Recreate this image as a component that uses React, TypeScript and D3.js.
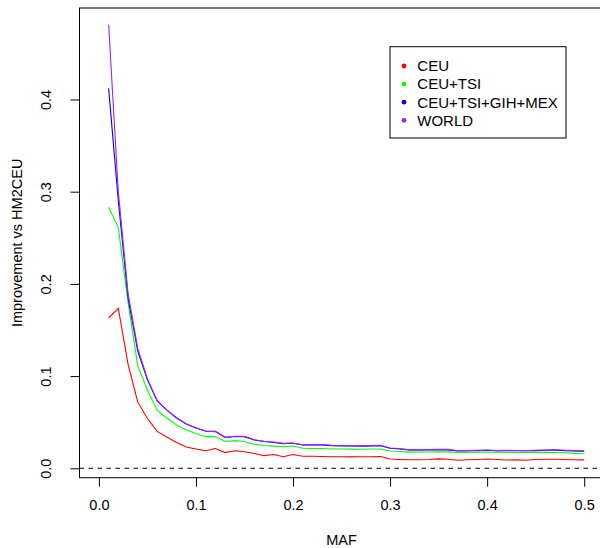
import React, { useRef, useEffect } from 'react';
import * as d3 from 'd3';

const maf = [
  0.01, 0.02, 0.03, 0.04, 0.05, 0.06, 0.07, 0.08, 0.09, 0.10,
  0.11, 0.12, 0.13, 0.14, 0.15, 0.16, 0.17, 0.18, 0.19, 0.20,
  0.21, 0.22, 0.23, 0.24, 0.25, 0.26, 0.27, 0.28, 0.29, 0.30,
  0.31, 0.32, 0.33, 0.34, 0.35, 0.36, 0.37, 0.38, 0.39, 0.40,
  0.41, 0.42, 0.43, 0.44, 0.45, 0.46, 0.47, 0.48, 0.49, 0.50,
];

const ceu = [
  0.163, 0.1735, 0.113, 0.072, 0.054, 0.040, 0.034, 0.028, 0.023, 0.021,
  0.019, 0.0215, 0.017, 0.019, 0.018, 0.016, 0.0137, 0.015, 0.0126, 0.015,
  0.013, 0.013, 0.0128, 0.0125, 0.0125, 0.0124, 0.0126, 0.0125, 0.0127, 0.010,
  0.0095, 0.0092, 0.0093, 0.0096, 0.0102, 0.0098, 0.0088, 0.0092, 0.0096, 0.0101,
  0.0096, 0.009, 0.0091, 0.0087, 0.0095, 0.0098, 0.0098, 0.0096, 0.0092, 0.0091,
];

const ceuTsi = [
  0.283, 0.261, 0.18, 0.111, 0.085, 0.063, 0.0546, 0.047, 0.0415, 0.0377,
  0.0343, 0.0345, 0.029, 0.030, 0.029, 0.026, 0.0247, 0.024, 0.0234, 0.0242,
  0.0218, 0.0215, 0.0214, 0.021, 0.021, 0.0208, 0.0207, 0.021, 0.021, 0.0188,
  0.0182, 0.0175, 0.0176, 0.0177, 0.018, 0.0178, 0.0172, 0.0172, 0.0174, 0.0176,
  0.0174, 0.0172, 0.0172, 0.0171, 0.0173, 0.0173, 0.0172, 0.0168, 0.0162, 0.0157,
];

const ceuTsiGihMex = [
  0.412, 0.29, 0.185, 0.127, 0.096, 0.073, 0.063, 0.0545, 0.048, 0.0437,
  0.0405, 0.040, 0.0336, 0.0345, 0.0343, 0.0307, 0.029, 0.028, 0.0268, 0.0272,
  0.0253, 0.0255, 0.0254, 0.0244, 0.0243, 0.0242, 0.024, 0.0243, 0.0244, 0.0217,
  0.021, 0.0198, 0.0198, 0.0199, 0.020, 0.020, 0.0188, 0.019, 0.0192, 0.0195,
  0.019, 0.0192, 0.0191, 0.019, 0.0192, 0.0195, 0.0197, 0.0192, 0.0188, 0.0185,
];

const world = [
  0.481, 0.30, 0.19, 0.130, 0.097, 0.0735, 0.063, 0.0548, 0.048, 0.044,
  0.0402, 0.0398, 0.0333, 0.0348, 0.0346, 0.031, 0.0293, 0.0285, 0.027, 0.0275,
  0.0256, 0.0258, 0.0257, 0.025, 0.0248, 0.0245, 0.0243, 0.0246, 0.025, 0.022,
  0.0215, 0.020, 0.020, 0.0204, 0.0206, 0.0205, 0.019, 0.0192, 0.0196, 0.0198,
  0.0192, 0.0194, 0.0193, 0.0192, 0.0195, 0.0199, 0.0201, 0.0196, 0.0192, 0.019,
];

const seriesNames = ['CEU', 'CEU+TSI', 'CEU+TSI+GIH+MEX', 'WORLD'];
const seriesColors = ['#ff0000', '#00ff00', '#0000ff', '#a020f0'];
const xTicks = [0, 0.1, 0.2, 0.3, 0.4, 0.5];
const yTicks = [0, 0.1, 0.2, 0.3, 0.4];

const FONT = "'Liberation Sans', Arial, Helvetica, sans-serif";

const App = () => {
  const ref = useRef<SVGSVGElement | null>(null);

  useEffect(() => {
    if (!ref.current) return;
    const svg = d3.select(ref.current);
    svg.selectAll('*').remove();

    const left = 79.5, right = 603.6, top = 8, bottom = 477.7;

    const x = d3.scaleLinear().domain([-0.02, 0.52]).range([left, right]);
    const y = d3.scaleLinear().domain([-0.0102, 0.4992]).range([bottom, top]);

    // dashed zero line
    svg.append('line')
      .attr('x1', left).attr('x2', right)
      .attr('y1', y(0)).attr('y2', y(0))
      .attr('stroke', '#000')
      .attr('stroke-width', 1)
      .attr('stroke-dasharray', '4.5,4.5');

    const allSeries = [ceu, ceuTsi, ceuTsiGihMex, world];
    const line = d3.line<number>()
      .x((_, i) => x(maf[i]))
      .y(d => y(d));

    allSeries.forEach((s, k) => {
      svg.append('path')
        .datum(s)
        .attr('d', line)
        .attr('fill', 'none')
        .attr('stroke', seriesColors[k])
        .attr('stroke-width', 1.1);
    });

    // box
    svg.append('rect')
      .attr('x', left).attr('y', top)
      .attr('width', right - left).attr('height', bottom - top)
      .attr('fill', 'none')
      .attr('stroke', '#000')
      .attr('stroke-width', 1);

    // x axis
    const gx = svg.append('g')
      .attr('transform', `translate(0,${bottom})`)
      .call(d3.axisBottom(x).tickValues(xTicks).tickSize(9).tickPadding(13).tickFormat(d3.format('.1f')));
    gx.select('.domain').remove();
    gx.selectAll('text')
      .attr('font-family', FONT)
      .attr('font-size', 14.5)
      .attr('fill', '#000');

    // y axis
    const gy = svg.append('g')
      .attr('transform', `translate(${left},0)`)
      .call(d3.axisLeft(y).tickValues(yTicks).tickSize(9).tickFormat(d3.format('.1f')));
    gy.select('.domain').remove();
    gy.selectAll('text')
      .attr('font-family', FONT)
      .attr('font-size', 14.5)
      .attr('fill', '#000')
      .attr('text-anchor', 'middle')
      .attr('transform', 'rotate(-90)')
      .attr('x', 0)
      .attr('y', -28.3)
      .attr('dy', null);

    // axis titles
    svg.append('text')
      .attr('x', (left + right) / 2)
      .attr('y', 545)
      .attr('text-anchor', 'middle')
      .attr('font-family', FONT)
      .attr('font-size', 14.5)
      .text('MAF');

    svg.append('text')
      .attr('transform', `translate(22,${(top + bottom) / 2}) rotate(-90)`)
      .attr('text-anchor', 'middle')
      .attr('font-family', FONT)
      .attr('font-size', 14.5)
      .text('Improvement vs HM2CEU');

    // legend
    const lg = svg.append('g');
    lg.append('rect')
      .attr('x', 390).attr('y', 46.7)
      .attr('width', 176).attr('height', 91.3)
      .attr('fill', '#fff')
      .attr('stroke', '#000');
    seriesNames.forEach((name, k) => {
      const cy = 66 + k * 18.1;
      lg.append('circle')
        .attr('cx', 404).attr('cy', cy).attr('r', 2.4)
        .attr('fill', seriesColors[k]);
      lg.append('text')
        .attr('x', 417.3).attr('y', cy + 5.3)
        .attr('font-family', FONT)
        .attr('font-size', 15)
        .text(name);
    });
  }, []);

  return (
    <svg
      ref={ref}
      width={600}
      height={548}
      style={{ position: 'absolute', left: 0, top: 0, background: '#fff' }}
    />
  );
};

export default App;
